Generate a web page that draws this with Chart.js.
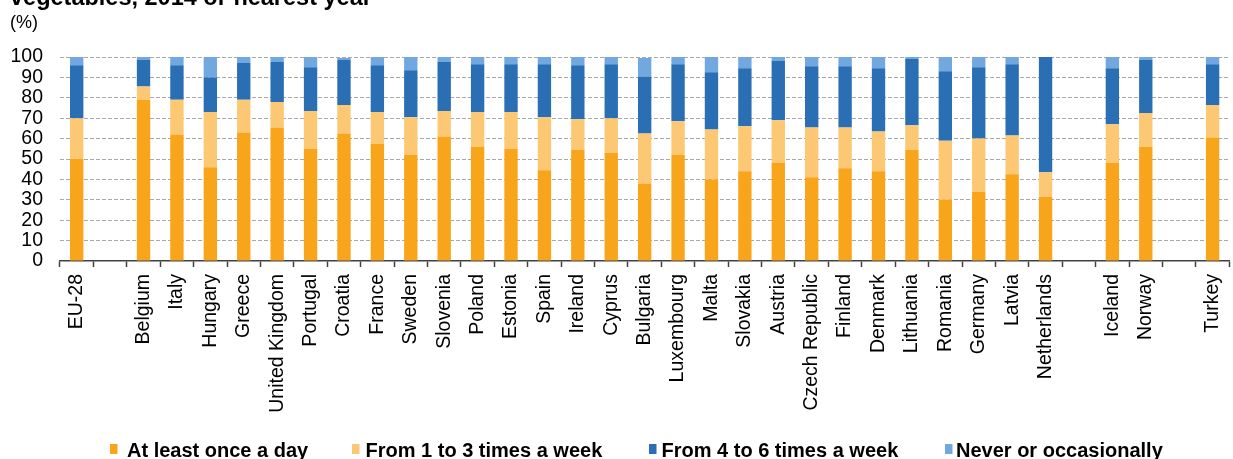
<!DOCTYPE html>
<html>
<head>
<meta charset="utf-8">
<script src="https://cdn.jsdelivr.net/npm/chart.js@4.4.1/dist/chart.umd.min.js"></script>
<style>
  html, body { margin: 0; padding: 0; background: #ffffff; overflow: hidden; }
  #wrap { position: relative; width: 1243px; height: 459px; }
</style>
</head>
<body>
<div id="wrap"><canvas id="chart"></canvas></div>
<script>
// Countries (empty strings are spacer slots between groups)
const categories = [
  'EU-28', '',
  'Belgium', 'Italy', 'Hungary', 'Greece', 'United Kingdom', 'Portugal', 'Croatia',
  'France', 'Sweden', 'Slovenia', 'Poland', 'Estonia', 'Spain', 'Ireland', 'Cyprus',
  'Bulgaria', 'Luxembourg', 'Malta', 'Slovakia', 'Austria', 'Czech Republic', 'Finland',
  'Denmark', 'Lithuania', 'Romania', 'Germany', 'Latvia', 'Netherlands', '',
  'Iceland', 'Norway', '',
  'Turkey'
];

// Share of population (%) by frequency of eating vegetables
const atLeastOnceADay = [
  50, null,
  79, 62, 46, 63, 65.5, 55, 62.5,
  57.5, 52, 61, 56, 55, 44.5, 54.5, 53,
  38, 52, 40, 44, 48, 41, 45.5,
  44, 54.5, 30, 34, 42.5, 31.5, null,
  48, 56, null,
  60.5
];
const oneToThreeWeek = [
  20, null,
  6.5, 17, 27, 16, 12.5, 18.5, 14,
  15.5, 18.5, 12.5, 17, 18, 26, 15, 17,
  24.5, 16.5, 24.5, 22, 21, 24.5, 20,
  19.5, 12, 29, 26, 19, 12, null,
  19, 16.5, null,
  16
];
const fourToSixWeek = [
  26, null,
  13, 17, 17, 18, 19.5, 21.5, 22,
  23, 23, 24, 23.5, 23.5, 26, 26.5, 26.5,
  28, 28, 28, 28.5, 29, 30, 30,
  31, 32.5, 34, 35, 35, 56.5, null,
  27.5, 26, null,
  20
];
const neverOrOccasionally = [
  4, null,
  1.5, 4, 10, 3, 2.5, 5, 1,
  4, 6.5, 2.5, 3.5, 3.5, 3.5, 4, 3.5,
  9, 3.5, 7.5, 5.5, 2, 4.5, 4.5,
  5.5, 1, 7, 5, 3.5, 0, null,
  5.5, 1.5, null,
  3.5
];

const seriesLabels = [
  'At least once a day',
  'From 1 to 3 times a week',
  'From 4 to 6 times a week',
  'Never or occasionally'
];
const yTickValues = [0, 10, 20, 30, 40, 50, 60, 70, 80, 90, 100];

const titleText = 'vegetables, 2014 or nearest year';
const unitText = '(%)';

const seriesColors = ['#F9A51B', '#FCC873', '#2A6EB4', '#71A8E0'];
const FONT = '"Liberation Sans", Arial, Helvetica, sans-serif';

Chart.defaults.font.family = FONT;
Chart.defaults.color = '#000000';

// Title line, unit label and the legend row drawn straight on the canvas
const headerAndLegend = {
  id: 'headerAndLegend',
  afterDraw(chart) {
    const ctx = chart.ctx;
    ctx.save();
    ctx.textBaseline = 'alphabetic';
    ctx.textAlign = 'left';
    ctx.fillStyle = '#000000';
    ctx.font = 'bold 23.5px ' + FONT;
    ctx.fillText(titleText, 10, 4.5);
    ctx.font = '18px ' + FONT;
    ctx.fillText(unitText, 10, 28);

    const markerX = [110, 352, 649, 945];
    const textX = [127, 365.5, 661.5, 956];
    chart.data.datasets.forEach((ds, i) => {
      ctx.fillStyle = ds.backgroundColor;
      ctx.fillRect(markerX[i], 444, 7.5, 10);
      ctx.fillStyle = '#000000';
      ctx.font = 'bold 20px ' + FONT;
      ctx.fillText(ds.label, textX[i], 457);
    });
    ctx.restore();
  }
};

const seriesData = [atLeastOnceADay, oneToThreeWeek, fourToSixWeek, neverOrOccasionally];

new Chart(document.getElementById('chart'), {
  type: 'bar',
  data: {
    labels: categories,
    datasets: seriesData.map((values, i) => ({
      label: seriesLabels[i],
      data: values,
      backgroundColor: seriesColors[i],
      borderWidth: 0,
      barPercentage: 0.4,
      categoryPercentage: 1.0,
      stack: 'share'
    }))
  },
  options: {
    responsive: true,
    maintainAspectRatio: false,
    animation: false,
    events: [],
    layout: { padding: { top: 57, left: 0, right: 0, bottom: 0 } },
    plugins: {
      legend: { display: false },
      tooltip: { enabled: false },
      title: { display: false }
    },
    scales: {
      x: {
        stacked: true,
        offset: true,
        afterFit(scale) { scale.height = 198; },
        grid: {
          display: true,
          offset: true,
          drawOnChartArea: false,
          drawTicks: true,
          tickLength: 6,
          tickColor: '#404040',
          tickWidth: 1.5
        },
        border: { display: true, color: '#404040', width: 1.5 },
        ticks: {
          autoSkip: false,
          maxRotation: 90,
          minRotation: 90,
          padding: 7,
          color: '#000000',
          font: { size: 19.5 }
        }
      },
      y: {
        stacked: true,
        min: 0,
        max: 100,
        afterFit(scale) { scale.width = 60; },
        afterBuildTicks(scale) { scale.ticks = yTickValues.map(v => ({ value: v })); },
        grid: {
          drawTicks: false,
          lineWidth: 1,
          color: (c) => (c.tick && c.tick.value === 0) ? 'rgba(0,0,0,0)' : '#a8a8a8'
        },
        border: { display: false, dash: [4, 2] },
        ticks: {
          autoSkip: false,
          padding: 17,
          color: '#000000',
          font: { size: 19.5 }
        }
      }
    }
  },
  plugins: [headerAndLegend]
});
</script>
</body>
</html>
